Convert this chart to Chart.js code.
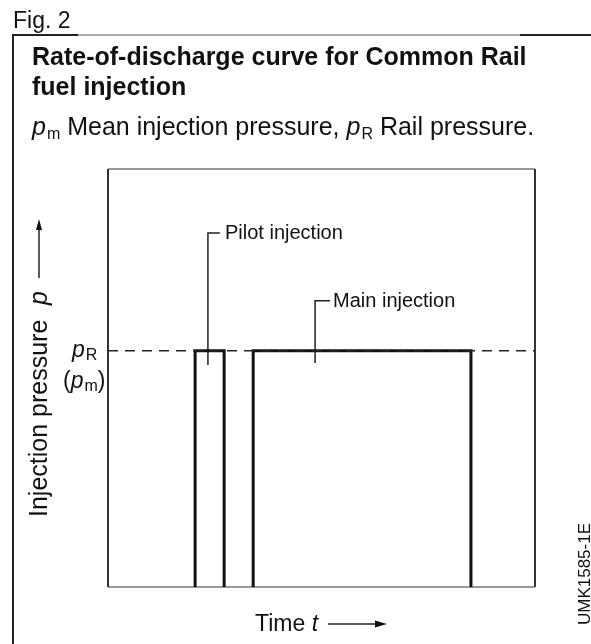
<!DOCTYPE html>
<html><head><meta charset="utf-8">
<script src="https://cdn.jsdelivr.net/npm/chart.js@4/dist/chart.umd.min.js"></script>
<style>html,body{margin:0;padding:0;background:#fff;}canvas{display:block;}</style>
</head><body>
<canvas id="c" width="591" height="644"></canvas>
<script>
// ---- data (time and pressure in arbitrary relative units) ----
const timeRange = [0, 100];
const pressureRange = [0, 100];
const railPressure = 56.5;                 // p_R (p_m)
const pilotInjection = [20.4, 27.2];       // start, end of pilot pulse
const mainInjection = [34.0, 85.0];        // start, end of main pulse
const annotationLabels = ['Pilot injection', 'Main injection'];
const leaderX = [23.4, 48.5];              // where each leader touches its pulse
const leaderBottom = [53.1, 53.6];
const leaderTop = [84.7, 68.5];
const leaderEnd = [26.2, 52.0];
const labelX = [27.4, 52.7];

const FONT = '"Liberation Sans", Arial, Helvetica, sans-serif';

function pulse(p, h) {
  return [{x: p[0], y: 0}, {x: p[0], y: h}, {x: p[1], y: h}, {x: p[1], y: 0}];
}
function leader(i) {
  return [{x: leaderX[i], y: leaderBottom[i]}, {x: leaderX[i], y: leaderTop[i]}, {x: leaderEnd[i], y: leaderTop[i]}];
}

function rich(ctx, segs, x, y) {
  let cx = x;
  for (const s of segs) {
    ctx.font = s.font;
    ctx.fillText(s.text, cx, y + (s.dy || 0));
    cx += ctx.measureText(s.text).width + (s.gap || 0);
  }
  return cx;
}

const decor = {
  id: 'decor',
  beforeDatasetsDraw(chart) {
    const ctx = chart.ctx, a = chart.chartArea;
    ctx.save();
    // plot frame
    ctx.strokeStyle = '#777'; ctx.lineWidth = 1.5;
    ctx.beginPath();
    ctx.moveTo(a.left, a.top); ctx.lineTo(a.right, a.top);
    ctx.moveTo(a.left, a.bottom); ctx.lineTo(a.right, a.bottom);
    ctx.stroke();
    ctx.strokeStyle = '#333'; ctx.lineWidth = 2;
    ctx.beginPath();
    ctx.moveTo(a.left, a.top); ctx.lineTo(a.left, a.bottom);
    ctx.moveTo(a.right, a.top); ctx.lineTo(a.right, a.bottom);
    ctx.stroke();
    ctx.restore();
  },
  afterDraw(chart) {
    const ctx = chart.ctx, xs = chart.scales.x, ys = chart.scales.y;
    ctx.save();
    ctx.fillStyle = '#111';
    ctx.textBaseline = 'alphabetic';
    ctx.textAlign = 'left';
    // outer figure frame
    ctx.strokeStyle = '#222'; ctx.lineWidth = 2;
    ctx.beginPath(); ctx.moveTo(13, 35); ctx.lineTo(13, 644); ctx.stroke();
    ctx.beginPath(); ctx.moveTo(12, 35); ctx.lineTo(78, 35); ctx.moveTo(520, 35); ctx.lineTo(591, 35); ctx.stroke();
    ctx.strokeStyle = '#aaa';
    ctx.beginPath(); ctx.moveTo(78, 35); ctx.lineTo(520, 35); ctx.stroke();
    // Fig. 2
    ctx.font = '23px ' + FONT;
    ctx.fillText('Fig. 2', 13, 28);
    // title
    ctx.font = 'bold 25px ' + FONT;
    ctx.fillText('Rate-of-discharge curve for Common Rail', 32, 65);
    ctx.fillText('fuel injection', 32, 95);
    // subtitle
    const R = '25px ' + FONT, I = 'italic 25px ' + FONT, S = '16px ' + FONT;
    rich(ctx, [
      {text: 'p', font: I, gap: 1}, {text: 'm', font: S, dy: 4},
      {text: ' Mean injection pressure, ', font: R},
      {text: 'p', font: I, gap: 1}, {text: 'R', font: S, dy: 4},
      {text: ' Rail pressure.', font: R}
    ], 32, 135);
    // p_R (p_m) label
    const I2 = 'italic 23px ' + FONT, S2 = '16px ' + FONT;
    const yR = ys.getPixelForValue(railPressure);
    rich(ctx, [{text: 'p', font: I2, gap: 1}, {text: 'R', font: S2, dy: 3}], 72, yR + 6);
    rich(ctx, [{text: '(', font: '23px ' + FONT}, {text: 'p', font: I2, gap: 1}, {text: 'm', font: S2, dy: 3}, {text: ')', font: '23px ' + FONT}], 63, yR + 37);
    // annotation labels
    ctx.font = '20px ' + FONT;
    ctx.textBaseline = 'middle';
    for (let i = 0; i < annotationLabels.length; i++) {
      ctx.fillText(annotationLabels[i], xs.getPixelForValue(labelX[i]), ys.getPixelForValue(leaderTop[i]) + 1);
    }
    ctx.textBaseline = 'alphabetic';
    // y axis title (rotated) with arrow
    ctx.save();
    ctx.translate(47, 517);
    ctx.rotate(-Math.PI / 2);
    ctx.font = '25px ' + FONT;
    ctx.fillText('Injection pressure', 0, 0);
    ctx.font = 'italic 25px ' + FONT;
    ctx.fillText('p', 212, 0);
    ctx.strokeStyle = '#222'; ctx.lineWidth = 1.5;
    ctx.beginPath(); ctx.moveTo(239, -8); ctx.lineTo(290, -8); ctx.stroke();
    ctx.beginPath(); ctx.moveTo(298, -8); ctx.lineTo(287, -11); ctx.lineTo(287, -5); ctx.closePath(); ctx.fill();
    ctx.restore();
    // x axis title with arrow
    ctx.font = '23px ' + FONT;
    const tw = ctx.measureText('Time ').width;
    ctx.fillText('Time ', 255, 631);
    ctx.font = 'italic 23px ' + FONT;
    ctx.fillText('t', 255 + tw, 631);
    ctx.strokeStyle = '#222'; ctx.lineWidth = 1.5;
    ctx.beginPath(); ctx.moveTo(328, 624); ctx.lineTo(378, 624); ctx.stroke();
    ctx.beginPath(); ctx.moveTo(387, 624); ctx.lineTo(375, 620.5); ctx.lineTo(375, 627.5); ctx.closePath(); ctx.fill();
    // figure code
    ctx.save();
    ctx.translate(590, 523);
    ctx.rotate(-Math.PI / 2);
    ctx.textAlign = 'right';
    ctx.font = '17px ' + FONT;
    ctx.fillText('UMK1585-1E', 0, 0);
    ctx.restore();
    ctx.restore();
  }
};

const lineStyle = {pointRadius: 0, fill: false, tension: 0, borderCapStyle: 'butt', borderJoinStyle: 'miter'};

new Chart(document.getElementById('c').getContext('2d'), {
  type: 'line',
  data: {
    datasets: [
      Object.assign({label: 'Rail pressure', data: [{x: timeRange[0], y: railPressure}, {x: timeRange[1], y: railPressure}],
        borderColor: '#222', borderWidth: 1.5, borderDash: [10, 7]}, lineStyle),
      Object.assign({label: 'Pilot injection', data: pulse(pilotInjection, railPressure), borderColor: '#111', borderWidth: 3}, lineStyle),
      Object.assign({label: 'Main injection', data: pulse(mainInjection, railPressure), borderColor: '#111', borderWidth: 3}, lineStyle),
      Object.assign({label: 'Pilot leader', data: leader(0), borderColor: '#222', borderWidth: 1.5}, lineStyle),
      Object.assign({label: 'Main leader', data: leader(1), borderColor: '#222', borderWidth: 1.5}, lineStyle)
    ]
  },
  options: {
    responsive: false,
    animation: false,
    devicePixelRatio: 1,
    layout: {padding: {left: 108, top: 169, right: 56, bottom: 57}},
    plugins: {legend: {display: false}, tooltip: {enabled: false}, title: {display: false}},
    scales: {
      x: {type: 'linear', min: timeRange[0], max: timeRange[1], display: false},
      y: {type: 'linear', min: pressureRange[0], max: pressureRange[1], display: false}
    }
  },
  plugins: [decor]
});
</script>
</body></html>
